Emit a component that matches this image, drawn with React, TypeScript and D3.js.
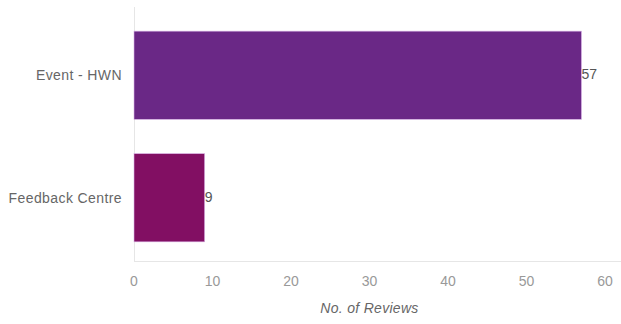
import React from "react";
import * as d3 from "d3";

const categories = ["Event - HWN", "Feedback Centre"];
const values = [57, 9];
const barColors = ["#6a2886", "#820f63"];
const xTicks = [0, 10, 20, 30, 40, 50, 60];
const xTitle = "No. of Reviews";

const W = 621;
const H = 324;
const margin = { left: 134, right: 16, top: 14, bottom: 65 };

export default function App() {
  const x = d3.scaleLinear().domain([0, 60]).range([margin.left, 605]);
  const y = d3
    .scaleBand<string>()
    .domain(categories)
    .range([margin.top, 259])
    .paddingInner(0.28)
    .paddingOuter(0.14);
  const font = "'Liberation Sans', Arial, sans-serif";
  return (
    <svg
      width={W}
      height={H}
      style={{ position: "absolute", left: 0, top: 0, background: "#fff" }}
      fontFamily={font}
    >
      <line x1={margin.left + 0.5} x2={margin.left + 0.5} y1={7} y2={261} stroke="#e6e6e6" />
      <line x1={margin.left} x2={W} y1={261.5} y2={261.5} stroke="#e6e6e6" />
      {categories.map((c, i) => (
        <g key={c}>
          <rect
            x={x(0)}
            y={y(c)}
            width={x(values[i]) - x(0)}
            height={y.bandwidth()}
            fill={barColors[i]}
            stroke="#d9b3e6"
            strokeWidth={0.6}
          />
          <text
            x={122}
            y={(y(c) as number) + y.bandwidth() / 2}
            textAnchor="end"
            dominantBaseline="central"
            fontSize={14}
            letterSpacing={0.4}
            fill="#666"
          >
            {c}
          </text>
          <text
            x={x(values[i])}
            y={(y(c) as number) + y.bandwidth() / 2 - 1}
            dominantBaseline="central"
            fontSize={14}
            fill="#555"
          >
            {values[i]}
          </text>
        </g>
      ))}
      {xTicks.map((t) => (
        <text key={t} x={x(t)} y={286} textAnchor="middle" fontSize={14} fill="#999">
          {t}
        </text>
      ))}
      <text
        x={(x(0) + x(60)) / 2}
        y={313}
        textAnchor="middle"
        fontSize={14}
        letterSpacing={0.3}
        fontStyle="italic"
        fill="#666"
      >
        {xTitle}
      </text>
    </svg>
  );
}
